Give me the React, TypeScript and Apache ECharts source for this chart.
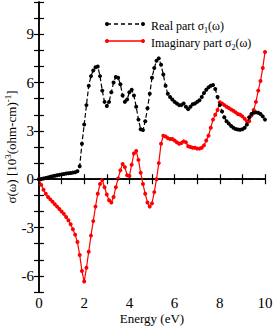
import React, { useEffect, useRef } from "react";
import * as echarts from "echarts";

const energy: number[] = Array.from({ length: 101 }, (_, i) => Math.round(i * 10) / 100);

const realPart: number[] = [
  0.0, 0.02, 0.05, 0.08, 0.11, 0.15, 0.18, 0.21, 0.24, 0.27,
  0.3, 0.32, 0.35, 0.37, 0.39, 0.41, 0.43, 0.5, 0.8, 2.2,
  3.4, 4.6, 5.8, 6.4, 6.75, 6.95, 7.0, 6.4, 5.5, 4.8,
  4.55, 4.8, 5.4, 6.0, 6.35, 6.3, 5.9, 5.2, 4.8, 4.95,
  5.4, 5.55, 5.2, 4.5, 3.7, 3.1, 3.05, 3.6, 4.4, 5.3,
  6.3, 6.9, 7.35, 7.5, 7.1, 6.5, 5.8, 5.3, 5.1, 4.95,
  4.8, 4.7, 4.6, 4.6, 4.7, 4.5, 4.35, 4.5, 4.65, 4.7,
  4.8, 4.9, 5.1, 5.35, 5.55, 5.7, 5.8, 5.85, 5.6, 5.1,
  4.6, 4.2, 3.85, 3.6, 3.45, 3.3, 3.2, 3.12, 3.08, 3.07,
  3.1, 3.2, 3.4, 3.85, 4.05, 4.12, 4.15, 4.12, 4.05, 3.9,
  3.7,
];

const imagPart: number[] = [
  0.0, -0.35, -0.65, -0.9, -1.1, -1.25, -1.4, -1.55, -1.7, -1.85,
  -2.0, -2.15, -2.35, -2.55, -2.8, -3.1, -3.45, -3.9, -4.7, -5.7,
  -6.35, -5.5, -4.5, -3.5, -2.6, -1.7, -0.9, -0.3, -0.05, -0.5,
  -0.95, -1.3, -1.45, -1.1, -0.5, 0.05, 0.55, 0.95, 0.75, 0.25,
  0.2, 0.9, 1.6, 1.75, 1.2, 0.4, -0.3, -0.9, -1.45, -1.7,
  -1.5, -0.8, 0.0, 1.0, 2.2, 2.7, 2.65, 2.55, 2.5, 2.5,
  2.4, 2.3, 2.2, 2.25, 2.35, 2.3, 2.05, 2.0, 1.95, 1.95,
  1.9, 1.9, 1.95, 2.1, 2.4, 2.7, 3.2, 3.7, 4.0, 4.3,
  4.78, 4.7, 4.6, 4.5, 4.42, 4.33, 4.25, 4.15, 4.05, 4.0,
  3.9, 3.75, 3.6, 3.6, 3.95, 4.3, 4.8, 5.5, 6.1, 6.9,
  7.9,
];

const yLabels: number[] = [-6, -3, 0, 3, 6, 9];
const xLabels: number[] = [0, 2, 4, 6, 8, 10];

const FONT = "Liberation Serif";

export default function App() {
  const ref = useRef<HTMLDivElement>(null);
  useEffect(() => {
    document.body.style.margin = "0";
    if (!ref.current) return;
    const chart = echarts.init(ref.current, undefined, { renderer: "svg" });
    const realData = energy.map((e, i) => [e, realPart[i]]);
    const imagData = energy.map((e, i) => [e, imagPart[i]]);
    const axisLineStyle = { color: "#000", width: 1.5 };
    const tick = { show: true, inside: true, length: 5, lineStyle: { color: "#000", width: 1.2 } };
    const legendRich = {
      b: { fontFamily: FONT, fontSize: 12, color: "#000", verticalAlign: "bottom", lineHeight: 14 },
      sub: { fontFamily: FONT, fontSize: 8, color: "#000", verticalAlign: "bottom", lineHeight: 14, padding: [0, 0, -2, 0] },
    };
    chart.setOption({
      animation: false,
      backgroundColor: "#fff",
      grid: { left: 39, right: 8, top: 2, bottom: 35, containLabel: false, outerBoundsMode: "none" },
      xAxis: [
        {
          type: "value",
          min: 0,
          max: 10,
          interval: 2,
          position: "bottom",
          name: "Energy (eV)",
          nameLocation: "middle",
          nameGap: 20,
          nameMoveOverlap: false,
          nameTextStyle: { fontFamily: FONT, fontSize: 13, color: "#000", verticalAlign: "top" },
          axisLine: { lineStyle: axisLineStyle },
          axisTick: tick,
          minorTick: { show: true, splitNumber: 2, length: 5, lineStyle: { color: "#000", width: 1.2 } },
          splitLine: { show: false },
          axisLabel: {
            fontFamily: FONT,
            fontSize: 15,
            color: "#000",
            margin: 3,
            lineHeight: 15,
            formatter: (v: number) => (xLabels.includes(v) ? String(v) : ""),
          },
        },
        {
          type: "value",
          min: 0,
          max: 10,
          interval: 2,
          position: "top",
          axisLine: { lineStyle: axisLineStyle },
          axisTick: tick,
          minorTick: { show: true, splitNumber: 2, length: 5, lineStyle: { color: "#000", width: 1.2 } },
          splitLine: { show: false },
          axisLabel: { show: false },
        },
      ],
      yAxis: [
        {
          type: "value",
          min: -7,
          max: 11,
          interval: 1,
          position: "left",
          name: "{b|σ(ω) [10}{sup|3}{b|(ohm-cm)}{sup|-1}{b|]}",
          nameLocation: "middle",
          nameGap: 21,
          nameRotate: 90,
          nameMoveOverlap: false,
          nameTextStyle: {
            fontFamily: FONT,
            fontSize: 13,
            color: "#000",
            rich: {
              b: { fontFamily: FONT, fontSize: 13, color: "#000", verticalAlign: "bottom", lineHeight: 15 },
              sup: { fontFamily: FONT, fontSize: 9, color: "#000", verticalAlign: "bottom", lineHeight: 15, padding: [0, 0, 6, 0] },
            },
          },
          axisLine: { lineStyle: axisLineStyle },
          axisTick: tick,
          splitLine: { show: false },
          axisLabel: {
            fontFamily: FONT,
            fontSize: 15,
            color: "#000",
            margin: 5,
            formatter: (v: number) => (yLabels.includes(v) ? String(v) : ""),
          },
        },
        {
          type: "value",
          min: -7,
          max: 11,
          interval: 1,
          position: "right",
          axisLine: { lineStyle: axisLineStyle },
          axisTick: tick,
          splitLine: { show: false },
          axisLabel: { show: false },
        },
      ],
      series: [
        {
          name: "Real part",
          type: "line",
          data: realData,
          symbol: "circle",
          symbolSize: 4,
          itemStyle: { color: "#000" },
          lineStyle: { color: "#000", width: 1.2, type: "dashed" },
          markLine: {
            silent: true,
            symbol: "none",
            label: { show: false },
            lineStyle: { color: "#000", width: 1, type: [4, 3] },
            data: [{ yAxis: 0 }],
          },
          z: 3,
        },
        {
          name: "Imaginary part",
          type: "line",
          data: imagData,
          symbol: "circle",
          symbolSize: 4,
          itemStyle: { color: "#ff0000" },
          lineStyle: { color: "#ff0000", width: 1.2 },
          z: 2,
        },
      ],
      graphic: [
        { type: "line", shape: { x1: 107, y1: 24, x2: 143, y2: 24 }, style: { stroke: "#000", lineWidth: 1.3, lineDash: [4, 3] } },
        { type: "circle", shape: { cx: 107, cy: 24, r: 2 }, style: { fill: "#000" } },
        { type: "circle", shape: { cx: 143, cy: 24, r: 2 }, style: { fill: "#000" } },
        {
          type: "text",
          x: 151,
          y: 25,
          style: {
            text: "{b|Real part σ}{sub|1}{b|(ω)}",
            rich: legendRich,
            verticalAlign: "middle",
          },
        },
        { type: "line", shape: { x1: 107, y1: 41, x2: 143, y2: 41 }, style: { stroke: "#ff0000", lineWidth: 1.3 } },
        { type: "circle", shape: { cx: 107, cy: 41, r: 2 }, style: { fill: "#ff0000" } },
        { type: "circle", shape: { cx: 143, cy: 41, r: 2 }, style: { fill: "#ff0000" } },
        {
          type: "text",
          x: 151,
          y: 42,
          style: {
            text: "{b|Imaginary part σ}{sub|2}{b|(ω)}",
            rich: legendRich,
            verticalAlign: "middle",
          },
        },
      ],
    });
    return () => chart.dispose();
  }, []);
  return <div ref={ref} style={{ width: 273, height: 327 }} />;
}
